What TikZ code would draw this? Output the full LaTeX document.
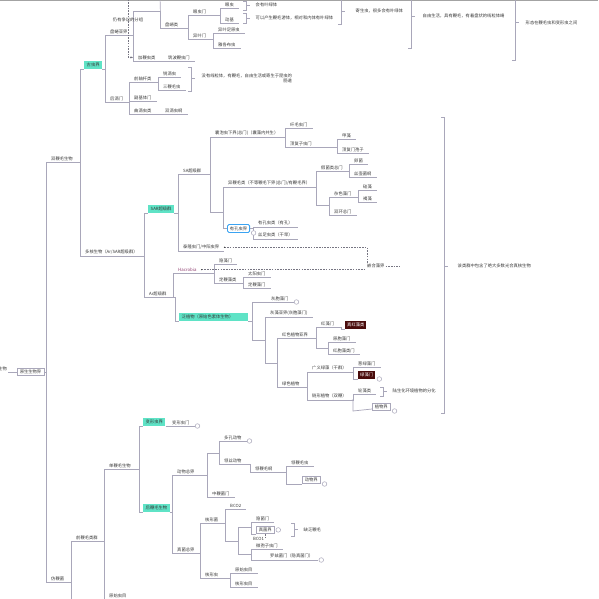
\documentclass[tikz,border=0pt]{standalone}
\usepackage{fontspec}
\usetikzlibrary{arrows.meta,positioning,calc}
\newfontfamily\cjk{Noto Sans CJK SC}
\definecolor{edge}{HTML}{A9A7BA}
\definecolor{ink}{HTML}{383838}
\definecolor{mint}{HTML}{5FE3C6}
\definecolor{maroon}{HTML}{4A0C0C}
\definecolor{sky}{HTML}{3AA3F2}
\definecolor{plumtxt}{HTML}{8E3A6E}
\definecolor{rim}{HTML}{A3A3A3}
\newcommand{\lbl}{\cjk\fontsize{4.3}{5.2}\selectfont}
\newcommand{\lk}[2]{\draw[link] (#1.south east) -| (#2.south west);}
\newcommand{\lkb}[2]{\draw[link] (#1.south east) -| ([xshift=-4pt]#2.south west) -- (#2.south west);}
\newcommand{\summ}[4]{\draw[link] (#1-3,#2) -- (#1,#2) -- (#1,#3) -- (#1-3,#3) (#1,#4) -- (#1+4,#4);}
\tikzset{
  link/.style={draw=edge, line width=0.7pt},
  rel/.style={draw=edge!70!black, line width=0.5pt, dash pattern=on 1.6pt off 1.1pt},
  topic/.style={font=\lbl, text=ink, inner xsep=5pt, inner ysep=1.4pt, anchor=south west,
    append after command={(\tikzlastnode.south west) edge[link] (\tikzlastnode.south east)}},
  hub/.style={topic, minimum width=#1},
  mintbox/.style={font=\lbl, text=ink, fill=mint, inner xsep=2.5pt, inner ysep=1.8pt, anchor=south west},
  darkbox/.style={font=\lbl, text=white, fill=maroon, inner xsep=2pt, inner ysep=1.8pt, anchor=south west},
  plainbox/.style={font=\lbl, text=ink, draw=edge, fill=white, line width=0.6pt, inner xsep=2.5pt, inner ysep=1.8pt, anchor=south west},
  skybox/.style={font=\lbl, text=ink, draw=sky, fill=white, line width=0.9pt, rounded corners=1.5pt, inner xsep=2.5pt, inner ysep=2pt, anchor=west},
  foldmark/.style={circle, draw=edge, fill=white, line width=0.5pt, inner sep=0pt, minimum size=4.6pt},
  note/.style={font=\lbl, text=ink, inner sep=0.5pt, anchor=west},
}
\begin{document}
\begin{tikzpicture}[x=1pt,y=-1pt]
\useasboundingbox (0,0) rectangle (598,599);
\fill[white] (0,0) rectangle (598,599);
\fill[rim] (0,0) rectangle (598,1.2);

% root and spine
\node[plainbox, anchor=west] (yss) at (17,372) {原生生物界};
\node[font=\lbl, text=ink, anchor=east, inner sep=1pt] (root) at (8,368.5) {真核生物};
\draw[link] (root.east |- yss.west) -- (yss.west);
\node[topic] (sbm) at (46,162) {双鞭毛生物};
\node[topic] (fbj) at (46,582) {仿鞭菌};
\draw[link] (yss.east) -| (sbm.south west);
\draw[link] (yss.east) -| (fbj.south west);

% excavates
\node[mintbox] (gcj) at (84,69) {古虫界};
\lkb{sbm}{gcj}
\node[topic] (pqy) at (105,35) {盘蜷亚界};
\node[topic] (hdm) at (105,102) {后滴门};
\lk{gcj}{pqy} \lk{gcj}{hdm}
\node[hub=27pt] (h0) at (133,11) {};
\node[topic] (jbl) at (133,61) {加鞭虫类};
\node[topic] (zbm) at (163,61) {筑波鞭虫门};
\lk{pqy}{h0} \lk{pqy}{jbl} \lk{jbl}{zbm}
\coordinate (h0up) at (160,-3);
\draw[link] (h0.south east) -- (h0up);
\node[topic] (pjl) at (160,28) {盘嵴类};
\lk{h0}{pjl}
\node[topic] (ycm) at (188,15) {眼虫门};
\node[topic] (yym) at (188,39) {异叶门};
\lk{pjl}{ycm} \lk{pjl}{yym}
\node[topic] (ych) at (220,8) {眼虫};
\node[topic] (djt) at (220,23) {动基};
\lk{ycm}{ych} \lk{ycm}{djt}
\node[topic] (yyz) at (213,33) {异叶足原虫};
\node[topic] (ygb) at (213,48) {雅各布虫};
\lk{yym}{yyz} \lk{yym}{ygb}
\summ{246}{1}{10}{5}
\node[note] (n1) at (255,5) {会有叶绿体};
\summ{246}{13}{23}{18}
\node[note] (n2) at (255,17.5) {可以产生鞭毛游体，相对和内体有叶绿体};
\summ{341}{-1}{24}{11}
\node[note] (n3) at (355,11) {寄生虫，很多会有叶绿体};
\summ{411}{-1}{48}{16}
\node[note] (n4) at (422,16) {自由生活，具有鞭毛，有着盘状的线粒体嵴};
\summ{515}{-1}{60}{22}
\node[note] (n5) at (525,22.5) {形态在鞭毛虫和变形虫之间};
\coordinate (reltop) at (128,-3);
\draw[rel, -{Stealth[length=2.5pt,width=2pt]}] (reltop) |- (jbl.west);
\node[font=\lbl, text=ink, inner sep=0.5pt] (rlab) at (128,19.5) {仍有争议的分组};

\node[topic] (qzg) at (129,82) {前轴杆类};
\node[topic] (fjt) at (129,101) {副基体门};
\node[topic] (qdc) at (129,114) {曲滴虫类};
\lk{hdm}{qzg} \lk{hdm}{fjt} \lk{hdm}{qdc}
\node[topic] (rdc) at (158,77) {锐滴虫};
\node[topic] (sbc) at (158,90) {三鞭毛虫};
\lk{qzg}{rdc} \lk{qzg}{sbc}
\node[topic] (sdc) at (160,114) {双滴虫纲};
\lk{qdc}{sdc}
\summ{191}{67}{91}{78}
\node[note, align=right] (n6) at (201,78.5) {没有线粒体，有鞭毛，自由生活或寄生于昆虫的\\肠道};

% diaphoretickes
\node[topic] (dhs) at (80,256) {多核生物（Ar/SAR超级群）};
\lk{sbm}{dhs}
\node[mintbox] (sar) at (148,213) {SAR超级群};
\node[topic] (arc) at (144,297) {Ar超级群};
\lkb{dhs}{sar} \lk{dhs}{arc}
\node[topic] (sac) at (178,174) {SA超级群};
\node[topic] (tlc) at (178,251) {泰隆虫门/中阳虫界};
\lk{sar}{sac} \lk{sar}{tlc}
\node[topic] (npc) at (210,137) {囊泡虫下界(总门)（囊藻内共生）};
\node[hub=13pt] (h1) at (210,212) {};
\lk{sac}{npc} \lk{sac}{h1}
\node[topic] (xmc) at (285,128) {纤毛虫门};
\node[topic] (dfz) at (285,147) {顶复子虫门};
\lk{npc}{xmc} \lk{npc}{dfz}
\node[topic] (jzm) at (337,139) {甲藻};
\node[topic] (dfb) at (337,153) {顶复门孢子};
\lk{dfz}{jzm} \lk{dfz}{dfb}
\node[topic] (ybm) at (223,187) {异鞭毛类（不等鞭毛下界(总门)/有鞭毛界）};
\node[skybox] (ykc) at (227,228.5) {有孔虫界};
\lk{h1}{ybm}
\draw[link] (h1.south east) -| ([xshift=-4pt]ykc.west) -- (ykc.west);
\node[topic] (ykl) at (253,227) {有孔虫类（有孔）};
\node[topic] (szl) at (253,239) {丝足虫类（干旱）};
\draw[link] (ykc.east) -| (ykl.south west);
\draw[link] (ykc.east) -| (szl.south west);
\node[foldmark] (ykcf) at ([xshift=3.5pt]ykc.south east) {};
\node[topic] (jjz) at (316,171) {假菌类总门};
\node[hub=13pt] (h2) at (316,205) {};
\lk{ybm}{jjz} \lk{ybm}{h2}
\node[topic] (ljg) at (349,164) {卵菌};
\node[topic] (shj) at (349,177) {丝壶菌纲};
\lk{jjz}{ljg} \lk{jjz}{shj}
\node[topic] (zsz) at (329,197) {杂色藻门};
\node[topic] (shz) at (329,215) {双环总门};
\lk{h2}{zsz} \lk{h2}{shz}
\node[topic] (gzl) at (358,190) {硅藻};
\node[topic] (hzl) at (358,202) {褐藻};
\lk{zsz}{gzl} \lk{zsz}{hzl}

\node[font=\lbl, text=ink, inner sep=1pt, anchor=west] (qhz) at (366,266) {嵌合藻界};
\coordinate (qhzr) at ([xshift=14pt]qhz.east);
\draw[rel] (tlc.east) -| ([xshift=1pt]qhz.north west);
\fill[ink] (tlc.east) circle (0.6pt);
\draw[rel] (qhz.east) -- (qhzr);

\node[topic, text=plumtxt] (hac) at (173,273) {Hacrobia};
\lk{arc}{hac}
\draw[rel] (hac.east) -- (hac.east -| qhz.west);
\fill[ink] (hac.east) circle (0.6pt);
\node[topic] (yzm) at (214,264) {隐藻门};
\node[topic] (dbl) at (214,283) {定鞭藻类};
\lk{hac}{yzm} \lk{hac}{dbl}
\node[topic] (tyc) at (243,277) {太阳虫门};
\node[topic] (dbz) at (243,288) {定鞭藻门};
\lk{dbl}{tyc} \lk{dbl}{dbz}

\node[mintbox, text width=64pt] (fzw) at (179,321) {泛植物（原始色素体生物）};
\lkb{arc}{fzw}
\node[topic] (hbz) at (252,302) {\hspace{14pt}灰胞藻门};
\node[hub=13pt] (h3) at (252,340) {};
\lk{fzw}{hbz} \lk{fzw}{h3}
\node[foldmark, right=0.3pt of hbz.south east] (hbzf) {};
\node[topic] (hzy) at (265,317) {灰藻亚界(灰胞藻门)};
\node[hub=12pt] (h4) at (265,363) {};
\lk{h3}{hzy} \lk{h3}{h4}
\node[topic] (hsz) at (277,338) {红色植物亚界};
\node[topic] (lsz) at (277,387) {绿色植物};
\lk{h4}{hsz} \lk{h4}{lsz}
\node[topic] (hzm) at (316,327.5) {红藻门};
\node[darkbox] (zhz) at (345,329) {真红藻类};
\node[hub=12pt] (h5) at (316,348) {};
\lk{hsz}{hzm} \lk{hsz}{h5}
\lkb{hzm}{zhz}
\node[topic] (ybz) at (328,342) {原胞藻门};
\node[topic] (hbl) at (328,354) {红胞藻类门};
\lk{h5}{ybz} \lk{h5}{hbl}
\node[topic] (gyl) at (307,372) {广义绿藻（干群）};
\node[topic] (lxz) at (307,400) {链形植物（双鞭）};
\lk{lsz}{gyl} \lk{lsz}{lxz}
\node[topic] (clz) at (353,367) {葱绿藻门};
\node[darkbox] (lzm) at (358,379) {绿藻门};
\lk{gyl}{clz}
\draw[link] (gyl.south east) -| ([xshift=-5pt]lzm.south west) -- (lzm.south west);
\node[foldmark, right=1.5pt of lzm.south east] (lzmf) {};
\node[topic] (lzl) at (353,394) {轮藻类};
\node[plainbox] (zwj) at (372,411) {植物界};
\lk{lxz}{lzl}
\draw[link] (lxz.south east) -| ([xshift=-19pt]zwj.south west) -- ([yshift=2pt]zwj.south west);
\node[foldmark, right=1.5pt of zwj.south east] (zwjf) {};
\summ{383}{387}{396}{391}
\node[note] (n7) at (392,391) {陆生化环境植物的分化};
\summ{444}{117}{413}{266}
\node[note] (n8) at (457,266) {该类群中包含了绝大多数光合真核生物};

% amorphea
\node[topic] (qbm) at (71,541) {前鞭毛类群};
\coordinate (fbjlow) at (71,604);
\lk{fbj}{qbm}
\draw[link] (fbj.south east) -| (fbjlow);
\node[topic] (dbm) at (104,469) {单鞭毛生物};
\node[topic] (ysm) at (104,599.5) {原始虫目};
\lk{qbm}{dbm} \lk{qbm}{ysm}
\node[mintbox] (bxj) at (143,426) {变形虫界};
\node[mintbox] (hbs) at (143,512) {后鞭毛生物};
\lkb{dbm}{bxj} \lkb{dbm}{hbs}
\node[topic] (bxm) at (167,426) {变形虫门};
\lk{bxj}{bxm}
\node[foldmark, right=0.3pt of bxm.south east] (bxmf) {};
\node[topic] (dwz) at (172,475) {动物总界};
\node[topic] (zjz) at (172,553) {真菌总界};
\lk{hbs}{dwz} \lk{hbs}{zjz}
\node[hub=12pt] (h6) at (207,453) {};
\node[topic] (zbj) at (207,497) {中鞭菌门};
\lk{dwz}{h6} \lk{dwz}{zbj}
\node[topic] (dkd) at (219,441) {多孔动物};
\node[topic] (lsd) at (219,464) {领丝动物};
\lk{h6}{dkd} \lk{h6}{lsd}
\node[foldmark, right=0.3pt of dkd.south east] (dkdf) {};
\node[topic] (lbg) at (250,472) {领鞭毛纲};
\lk{lsd}{lbg}
\node[topic] (lbc) at (286,466) {领鞭毛虫};
\node[plainbox] (dwj) at (302,484) {动物界};
\lk{lbg}{lbc}
\draw[link] (lbg.south east) -| ([xshift=-16pt]dwj.south west) -- (dwj.south west);
\node[foldmark, right=1.5pt of dwj.south east] (dwjf) {};

\node[topic] (hxj) at (200,523) {核形菌};
\node[topic] (hxc) at (200,578) {核形虫};
\lk{zjz}{hxj} \lk{zjz}{hxc}
\node[topic] (bc2) at (225,509) {BCO2};
\node[hub=13pt] (h7) at (225,541) {};
\lk{hxj}{bc2} \lk{hxj}{h7}
\node[hub=13pt] (h8) at (238,527.5) {};
\node[hub=13pt] (h9) at (238,554) {};
\lk{h7}{h8} \lk{h7}{h9}
\node[topic] (yjm) at (251,522) {隐菌门};
\node[plainbox] (zjj) at (256,534) {真菌界};
\lk{h8}{yjm}
\draw[link] (h8.south east) -| ([xshift=-5pt]zjj.south west) -- (zjj.south west);
\node[foldmark, right=1.2pt of zjj.east] (zjjf) {};
\summ{294}{523}{536}{529.5}
\node[note] (n9) at (303,530) {缺乏鞭毛};
\coordinate (bcend) at ([yshift=-5pt]zjj.south);
\draw[rel] (zjj.south) -- (bcend);
\node[font=\lbl, text=ink, inner sep=0.5pt, anchor=east] (bc1) at ([xshift=-0.5pt]bcend) {BCO1};
\node[topic, inner ysep=0.5pt] (wbz) at (251,549) {微孢子虫门};
\node[topic] (lzj) at (251,560) {\hspace{14pt}罗兹菌门（隐真菌门）};
\lk{h9}{wbz} \lk{h9}{lzj}
\node[foldmark, right=0.3pt of lzj.south east] (lzjf) {};
\node[topic] (ysc) at (230,573) {原始虫目};
\node[topic] (hxm) at (230,587) {核形虫目};
\lk{hxc}{ysc} \lk{hxc}{hxm}
\end{tikzpicture}
\end{document}
